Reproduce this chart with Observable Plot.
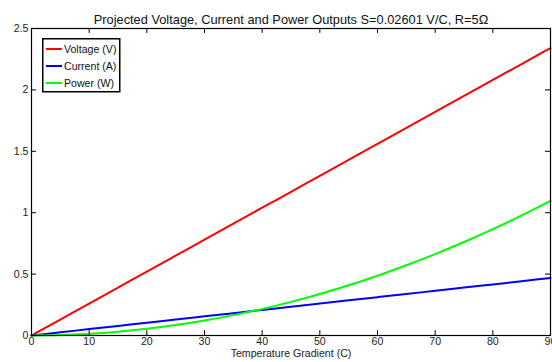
<!DOCTYPE html>
<html>
<head>
<meta charset="utf-8">
<script src="https://cdn.jsdelivr.net/npm/d3@7"></script>
<script src="https://cdn.jsdelivr.net/npm/@observablehq/plot@0.6"></script>
<style>
  html, body { margin: 0; padding: 0; background: #fff; }
  #wrap { position: relative; width: 552px; height: 362px; font-family: "Liberation Sans", Arial, sans-serif; }
  #legend { position: absolute; left: 42px; top: 38px; }
</style>
</head>
<body>
<div id="wrap"></div>
<script>
const temperature = [0,5,10,15,20,25,30,35,40,45,50,55,60,65,70,75,80,85,90];
const voltage = [0,0.1301,0.2601,0.3902,0.5202,0.6503,0.7803,0.9104,1.0404,1.1705,1.3005,1.4306,1.5606,1.6907,1.8207,1.9508,2.0808,2.2109,2.3409];
const current = [0,0.0260,0.0520,0.0780,0.1040,0.1301,0.1561,0.1821,0.2081,0.2341,0.2601,0.2861,0.3121,0.3381,0.3641,0.3902,0.4162,0.4422,0.4682];
const power = [0,0.0034,0.0135,0.0304,0.0541,0.0846,0.1218,0.1658,0.2165,0.2740,0.3383,0.4093,0.4871,0.5717,0.6630,0.7611,0.8659,0.9776,1.0960];
const seriesNames = ["Voltage (V)", "Current (A)", "Power (W)"];
const seriesColors = ["#ff0000", "#0000ff", "#00ff00"];
const xTicks = [0,10,20,30,40,50,60,70,80,90];
const yTicks = [0,0.5,1,1.5,2,2.5];
const yTickLabels = ["0","0.5","1","1.5","2","2.5"];
const titleText = "Projected Voltage, Current and Power Outputs S=0.02601 V/C, R=5\u03A9";
const xLabel = "Temperature Gradient (C)";

const seriesValues = [voltage, current, power];
const rows = [];
seriesNames.forEach((name, i) => {
  temperature.forEach((t, j) => rows.push({series: name, t, v: seriesValues[i][j]}));
});

const xMax = 90, yMax = 2.5;
const tickY = 0.04;   // inward tick length in y units
const tickX = 0.87;   // inward tick length in x units

const chart = Plot.plot({
  width: 552,
  height: 362,
  marginLeft: 31,
  marginRight: 2,
  marginTop: 28,
  marginBottom: 27,
  style: {fontFamily: "Liberation Sans, Arial, sans-serif", fontSize: "10.6px", color: "#222", background: "#fff"},
  x: {domain: [0, xMax]},
  y: {domain: [0, yMax]},
  color: {domain: seriesNames, range: seriesColors},
  marks: [
    Plot.line(rows, {x: "t", y: "v", z: "series", stroke: "series", strokeWidth: 2, curve: "monotone-x"}),
    Plot.ruleX(xTicks, {x: d => d, y1: 0, y2: tickY, stroke: "#000"}),
    Plot.ruleX(xTicks, {x: d => d, y1: yMax - tickY, y2: yMax, stroke: "#000"}),
    Plot.ruleY(yTicks, {y: d => d, x1: 0, x2: tickX, stroke: "#000"}),
    Plot.ruleY(yTicks, {y: d => d, x1: xMax - tickX, x2: xMax, stroke: "#000"}),
    Plot.frame({stroke: "#000", strokeWidth: 1.2}),
    Plot.axisX(xTicks, {tickSize: 0, tickPadding: 2, label: null, fontSize: 10.6, fill: "#222"}),
    Plot.axisY(yTicks, {tickSize: 0, tickPadding: 3, label: null, tickFormat: (d, i) => yTickLabels[i], fontSize: 10.6, fill: "#222"}),
    Plot.text([titleText], {frameAnchor: "top", dy: -14, fontSize: 12.8, fill: "#111", text: d => d}),
    Plot.text([xLabel], {frameAnchor: "bottom", dy: 21, fontSize: 10.6, fill: "#222", text: d => d})
  ]
});
document.getElementById("wrap").appendChild(chart);

// Legend
const lg = d3.create("svg").attr("id", "legend").attr("width", 80).attr("height", 56)
  .style("font-family", "Liberation Sans, Arial, sans-serif");
lg.append("rect").attr("x", 0.75).attr("y", 0.75).attr("width", 77).attr("height", 53)
  .attr("fill", "#fff").attr("stroke", "#000").attr("stroke-width", 1.5);
seriesNames.forEach((name, i) => {
  const y = 11 + i * 17;
  lg.append("line").attr("x1", 4).attr("x2", 20).attr("y1", y).attr("y2", y)
    .attr("stroke", seriesColors[i]).attr("stroke-width", 2);
  lg.append("text").attr("x", 22).attr("y", y).attr("dy", "0.35em")
    .attr("font-size", 10.6).attr("fill", "#111").text(name);
});
document.getElementById("wrap").appendChild(lg.node());
</script>
</body>
</html>
